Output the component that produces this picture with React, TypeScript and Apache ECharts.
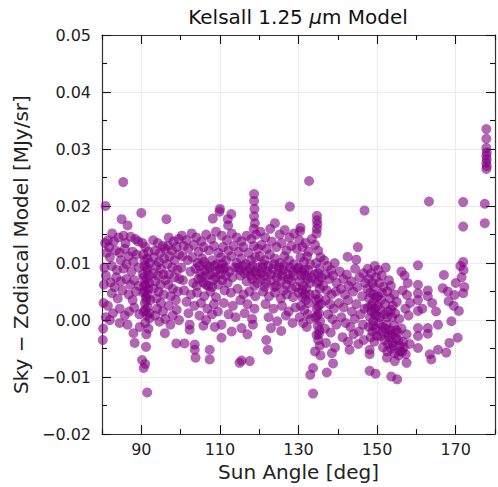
import React, { useEffect, useRef } from "react";
import * as echarts from "echarts";

// ---- Data (sun angle [deg], sky - zodiacal model [MJy/sr]) ----
const pts80to90: number[][] = [
  [80.9, 0.02], [85.4, 0.0242], [80.2, -0.0035], [80.3, -0.0015], [81.0, 0.0005],
  [82.6, 0.0152], [81.5, 0.014], [85.0, 0.0177], [86.5, 0.0166], [84.2, 0.0145], [85.5, 0.0148],
  [87.3, 0.0146], [88.5, 0.0142], [83.0, 0.0138], [80.8, 0.0135], [81.8, 0.0128], [86.0, 0.0135], [89.2, 0.0138],
  [81.2, 0.0118], [82.0, 0.011], [83.5, 0.0122], [84.5, 0.0118], [85.8, 0.0125], [86.8, 0.0112], [87.8, 0.012],
  [88.8, 0.0115], [84.8, 0.0105], [86.2, 0.0098], [88.0, 0.0102], [82.5, 0.0095], [80.6, 0.0092], [83.8, 0.0088],
  [85.5, 0.009], [87.5, 0.0085], [89.3, 0.0092],
  [81.0, 0.0078], [82.2, 0.0066], [83.6, 0.0075], [84.8, 0.0068], [86.2, 0.0072], [87.2, 0.0062], [88.2, 0.007],
  [89.4, 0.006], [82.5, 0.0047], [85.2, 0.0052], [86.8, 0.0045], [88.6, 0.005], [84.0, 0.0038], [87.8, 0.0035],
  [81.5, 0.0025], [82.8, 0.0012], [84.5, 0.002], [85.8, 0.0008], [86.9, 0.0015], [88.2, 0.0022], [89.5, 0.001],
  [82.0, 0.0], [84.5, -0.0005], [86.5, -0.0008], [88.0, -0.0023], [88.3, -0.004], [89.6, -0.0012], [80.5, 0.0062],
  [80.4, 0.003], [83.2, 0.0058],
];

const pts90to100: number[][] = [
  [90.0, 0.0188], [91.5, -0.0127], [90.2, -0.007], [90.6, -0.0084], [91.2, -0.0047], [91.0, -0.0077],
  [96.4, 0.0177], [96.0, -0.0023], [98.9, -0.0041],
  [90.3, 0.0135], [91.0, 0.0128], [91.8, 0.012], [90.5, 0.0115], [91.5, 0.0108], [92.2, 0.01], [90.8, 0.0095],
  [91.6, 0.0088], [90.4, 0.008], [91.3, 0.0072], [92.0, 0.0065], [90.7, 0.006], [91.8, 0.0055], [90.5, 0.0048],
  [91.2, 0.004], [92.3, 0.0035], [90.9, 0.003], [91.6, 0.0022], [90.6, 0.0015], [91.4, 0.0008], [92.1, 0.0003],
  [91.0, -0.0005], [91.8, -0.0015], [91.3, -0.0025],
  [93.0, 0.014], [94.2, 0.0135], [95.5, 0.013], [93.5, 0.0122], [94.8, 0.0118], [96.0, 0.0125], [93.2, 0.011],
  [94.5, 0.0102], [95.8, 0.0108], [93.8, 0.0095], [95.0, 0.009], [93.0, 0.0082], [94.2, 0.0078], [95.6, 0.008],
  [93.6, 0.0068], [94.9, 0.0062], [96.2, 0.007], [93.1, 0.0055], [94.4, 0.005], [95.7, 0.0045], [93.8, 0.0038],
  [95.0, 0.003], [94.0, 0.002], [95.5, 0.0015], [93.5, 0.0008], [96.1, 0.0002], [94.6, -0.0003],
  [97.0, 0.0145], [98.2, 0.0138], [99.5, 0.0142], [96.8, 0.013], [97.8, 0.0122], [99.0, 0.0128], [97.2, 0.0112],
  [98.5, 0.0105], [99.6, 0.0115], [96.6, 0.0098], [97.9, 0.0092], [99.2, 0.0088], [97.0, 0.008], [98.4, 0.0075],
  [99.7, 0.0072], [96.9, 0.0062], [98.0, 0.0055], [99.3, 0.005], [97.5, 0.0042], [98.8, 0.0035], [97.0, 0.0025],
  [99.0, 0.0018], [98.0, 0.0008], [99.6, 0.0], [97.4, -0.0008],
];

const pts100to110: number[][] = [
  [101.0, -0.0041], [103.6, -0.0043], [103.6, -0.0052], [103.8, -0.0066], [102.3, -0.0008], [102.3, -0.0017],
  [107.4, -0.0052], [107.4, -0.0069], [108.2, 0.0178], [110.0, 0.0195], [109.9, 0.019], [110.4, -0.0031],
  [100.3, 0.0148], [101.5, 0.014], [102.8, 0.0152], [104.0, 0.0145], [105.3, 0.0138], [106.5, 0.015],
  [107.8, 0.0142], [109.0, 0.0155], [100.8, 0.013], [102.0, 0.0125], [103.4, 0.0132], [104.6, 0.012],
  [105.9, 0.0128], [107.2, 0.0122], [108.5, 0.013], [109.6, 0.0118], [100.5, 0.0112], [101.8, 0.0105],
  [103.0, 0.011], [104.3, 0.01], [105.5, 0.0108], [106.8, 0.0095], [108.0, 0.0105], [109.3, 0.0098],
  [100.2, 0.0092], [102.5, 0.0085], [103.8, 0.009], [105.0, 0.0082], [106.2, 0.0088], [107.5, 0.008],
  [108.8, 0.0085], [110.0, 0.009], [100.6, 0.007], [103.2, 0.0065], [104.5, 0.0072], [105.8, 0.0066],
  [107.0, 0.006], [108.3, 0.007], [109.6, 0.0062], [100.9, 0.0052], [102.6, 0.0045], [104.2, 0.0048],
  [106.0, 0.0042], [107.6, 0.005], [109.0, 0.004], [101.5, 0.0032], [103.5, 0.0025], [105.2, 0.003],
  [106.8, 0.002], [108.5, 0.0028], [102.0, 0.0012], [104.8, 0.0008], [106.5, 0.0], [108.0, 0.001],
  [109.5, 0.0015], [105.8, -0.001], [108.7, -0.0012], [110.4, -0.0008],
];

const pts110to120: number[][] = [
  [112.9, 0.0186], [112.0, 0.0177], [112.1, 0.0166], [118.7, 0.0221], [118.7, 0.0209], [118.8, 0.0195],
  [118.7, 0.0182], [118.9, 0.017], [118.6, 0.016], [115.5, -0.0071], [117.6, -0.0072], [115.0, -0.0075],
  [110.5, 0.0148], [111.8, 0.014], [113.0, 0.0152], [114.3, 0.0145], [115.5, 0.0138], [116.8, 0.0148],
  [118.0, 0.0142], [119.2, 0.015], [110.8, 0.0128], [112.2, 0.0122], [113.5, 0.013], [114.8, 0.012],
  [116.0, 0.0128], [117.3, 0.0118], [118.6, 0.013], [119.7, 0.0125], [110.3, 0.011], [111.6, 0.0105],
  [112.9, 0.0112], [114.2, 0.01], [115.4, 0.0108], [116.6, 0.0098], [117.9, 0.0105], [119.0, 0.011],
  [110.9, 0.009], [112.4, 0.0085], [113.8, 0.0092], [115.0, 0.0088], [116.3, 0.0082], [117.6, 0.009],
  [118.9, 0.0085], [110.6, 0.007], [112.0, 0.0065], [113.2, 0.0075], [116.8, 0.0068], [118.2, 0.0072],
  [119.5, 0.0065], [111.2, 0.0052], [112.8, 0.0048], [114.5, 0.0055], [116.0, 0.0045], [117.5, 0.005],
  [119.0, 0.0042], [111.0, 0.003], [113.3, 0.0025], [115.2, 0.0035], [117.0, 0.0028], [118.8, 0.002],
  [112.2, 0.001], [114.0, 0.0005], [116.3, 0.0012], [118.2, 0.0002], [115.5, -0.0014], [118.4, -0.0008],
  [113.0, -0.002], [117.0, -0.0025],
];

const pts120to130: number[][] = [
  [127.8, 0.0199], [122.2, -0.0052], [123.0, -0.0014], [125.6, -0.0019], [121.8, -0.0035],
  [120.3, 0.0155], [121.5, 0.0145], [122.8, 0.016], [124.0, 0.017], [125.2, 0.015], [126.5, 0.0158],
  [127.7, 0.0145], [128.9, 0.0152], [120.6, 0.0132], [121.9, 0.0125], [123.2, 0.0138], [124.4, 0.0128],
  [125.7, 0.0135], [126.9, 0.0122], [128.2, 0.013], [129.5, 0.0125], [120.2, 0.0112], [121.4, 0.0105],
  [122.7, 0.0115], [124.0, 0.0108], [125.3, 0.01], [126.4, 0.0112], [127.6, 0.0105], [128.8, 0.0098],
  [120.8, 0.0092], [122.1, 0.0085], [123.5, 0.009], [124.8, 0.0082], [126.0, 0.0088], [127.2, 0.008],
  [128.5, 0.0085], [129.8, 0.009], [120.5, 0.0072], [121.8, 0.0065], [123.0, 0.007], [124.3, 0.006],
  [125.6, 0.0068], [126.9, 0.0062], [128.1, 0.007], [129.4, 0.0058], [121.0, 0.005], [122.5, 0.0042],
  [124.0, 0.0048], [125.5, 0.0038], [127.0, 0.0045], [128.6, 0.004], [121.6, 0.0028], [123.6, 0.002],
  [125.8, 0.0025], [127.5, 0.0015], [129.2, 0.0022], [122.4, 0.0005], [124.6, -0.0002], [126.8, 0.0008],
  [128.5, -0.0005],
];

const pts130to140: number[][] = [
  [132.7, 0.0244], [134.7, 0.0183], [134.7, 0.0175], [134.8, 0.0168], [134.7, 0.016], [134.6, 0.0152],
  [130.5, 0.0162], [130.4, 0.0156], [133.7, -0.0129], [133.7, -0.0084], [133.0, -0.0096], [137.2, -0.0092],
  [138.8, -0.0076],
  [130.2, 0.014], [131.0, 0.0128], [131.8, 0.0135], [132.6, 0.012], [133.4, 0.0142], [130.5, 0.011],
  [131.4, 0.0102], [132.2, 0.0112], [133.0, 0.0098], [130.0, 0.0092], [130.8, 0.0085], [131.7, 0.0078],
  [132.5, 0.0088], [133.3, 0.0075], [130.4, 0.0068], [131.2, 0.006], [132.0, 0.0055], [132.9, 0.0065],
  [130.1, 0.0048], [131.0, 0.004], [131.9, 0.0035], [132.8, 0.0045], [130.6, 0.0025], [131.5, 0.0018],
  [132.4, 0.001], [130.3, 0.0005], [131.2, -0.0005], [132.1, -0.0012], [133.1, 0.0002],
  [134.2, 0.0132], [135.0, 0.0122], [135.6, 0.011], [134.5, 0.01], [135.3, 0.009], [134.1, 0.008],
  [135.8, 0.0075], [134.7, 0.0065], [135.4, 0.0055], [134.3, 0.0045], [135.1, 0.0038], [135.7, 0.0028],
  [134.6, 0.002], [135.2, 0.0012], [134.4, 0.0005], [135.5, -0.0002], [134.9, -0.001], [135.3, -0.0018],
  [134.6, -0.0026], [135.0, -0.0035], [135.4, -0.0045], [134.2, -0.0055], [135.6, -0.0062],
  [136.5, 0.0105], [137.4, 0.0095], [138.3, 0.0088], [139.2, 0.01], [136.8, 0.008], [137.8, 0.0072],
  [138.8, 0.0078], [139.7, 0.0065], [136.3, 0.006], [137.2, 0.0052], [138.4, 0.0045], [139.5, 0.005],
  [136.9, 0.0035], [138.0, 0.0028], [139.0, 0.002], [137.5, 0.001], [138.6, 0.0002], [139.6, -0.0008],
  [136.7, -0.0015], [138.2, -0.0022], [137.0, -0.004], [139.3, -0.0048], [138.5, -0.0058],
];

const pts140to150: number[][] = [
  [146.8, 0.0192], [145.1, 0.0128], [142.5, 0.0111], [144.7, 0.0106], [143.0, -0.0052], [148.1, -0.0052],
  [148.1, -0.006], [148.1, -0.0089], [149.6, -0.0094],
  [140.5, 0.0085], [141.4, 0.0072], [142.3, 0.008], [143.5, 0.0068], [144.4, 0.009], [145.5, 0.0075],
  [146.5, 0.0082], [140.8, 0.0055], [141.8, 0.0045], [142.8, 0.006], [143.9, 0.005], [145.0, 0.0058],
  [146.2, 0.0042], [147.0, 0.0065], [140.3, 0.003], [141.5, 0.0022], [142.6, 0.0035], [143.6, 0.0015],
  [144.7, 0.0028], [145.8, 0.001], [146.8, 0.002], [140.9, 0.0005], [142.0, -0.0005], [143.2, -0.0012],
  [144.3, 0.0002], [145.4, -0.002], [146.4, -0.0008], [141.2, -0.003], [142.6, -0.0038], [144.0, -0.0025],
  [145.2, -0.0042], [146.6, -0.0035],
  [147.6, 0.009], [148.5, 0.0082], [149.4, 0.0095], [147.8, 0.0072], [148.8, 0.0065], [149.7, 0.0075],
  [147.5, 0.0055], [148.3, 0.0048], [149.2, 0.0058], [148.0, 0.0038], [148.9, 0.003], [149.8, 0.004],
  [147.7, 0.0022], [148.6, 0.0015], [149.5, 0.002], [148.2, 0.0005], [149.0, -0.0002], [149.8, 0.0008],
  [147.9, -0.0012], [148.8, -0.002], [149.6, -0.0015], [148.4, -0.003], [149.3, -0.0038], [149.9, -0.0028],
];

const pts150to160: number[][] = [
  [153.6, -0.0099], [155.1, -0.0104], [152.5, -0.0066], [154.5, -0.0072], [157.5, -0.0075],
  [150.3, 0.0088], [151.2, 0.0078], [152.2, 0.0092], [153.0, 0.007], [150.6, 0.0065], [151.6, 0.0058],
  [152.6, 0.005], [153.5, 0.006], [154.4, 0.0045], [150.2, 0.0042], [151.0, 0.0035], [152.0, 0.0028],
  [153.2, 0.0038], [154.0, 0.0025], [155.0, 0.0032], [150.8, 0.0018], [151.8, 0.001], [152.8, 0.0015],
  [153.8, 0.0005], [154.6, 0.0012], [155.6, 0.0002], [150.4, -0.0005], [151.4, -0.0012], [152.4, -0.0008],
  [153.4, -0.0018], [154.3, -0.001], [155.2, -0.0022], [156.2, -0.0015], [150.9, -0.0028], [151.9, -0.0035],
  [152.9, -0.0025], [153.9, -0.004], [154.8, -0.0032], [155.8, -0.0045], [156.6, -0.0038], [151.5, -0.0048],
  [152.6, -0.0055], [153.6, -0.005], [154.5, -0.0058], [155.5, -0.0062], [156.4, -0.0055], [157.3, -0.006],
  [156.2, 0.0085], [157.0, 0.0078], [157.8, 0.0065], [156.5, 0.0052], [157.6, 0.0044], [158.4, 0.003],
  [157.2, 0.002], [158.0, 0.0008], [157.5, -0.0025], [158.3, -0.0042],
];

const pts160to180: number[][] = [
  [160.4, 0.0096], [160.4, 0.0062], [160.4, 0.0047], [160.4, 0.0035], [160.4, 0.0016], [160.4, -0.0014],
  [160.4, -0.0028], [160.4, -0.0049],
  [163.2, 0.0208], [171.9, 0.0207], [171.9, 0.0164], [177.4, 0.0204], [177.4, 0.017], [171.9, 0.0102],
  [167.0, 0.0079], [171.2, 0.0095], [172.0, 0.0088], [171.5, 0.0075], [166.7, 0.0056], [168.0, 0.005],
  [169.7, 0.0044], [171.9, 0.0047], [168.2, 0.0033], [169.5, 0.0025], [170.8, 0.0016], [168.9, -0.0002],
  [170.5, -0.0031], [168.4, -0.004], [167.6, -0.0057], [165.5, -0.0052], [163.4, -0.006], [163.8, -0.0069],
  [165.5, -0.0008], [162.9, -0.0014], [162.9, -0.0024], [161.5, 0.002], [162.9, 0.0052], [162.9, 0.0042],
  [164.0, 0.003], [165.0, 0.0015], [170.0, 0.0065], [172.2, 0.0058],
  [177.8, 0.0335], [177.8, 0.0318], [177.8, 0.0302], [177.9, 0.0294], [177.8, 0.0288], [177.9, 0.0282],
  [177.8, 0.0276], [177.9, 0.027], [177.8, 0.0265],
];

// extra points in the densest (darkest) parts of the cloud
const ptsDenseCore: number[][] = [
  [90.8, 0.0105], [91.4, 0.0092], [90.6, 0.0075], [91.9, 0.0078], [91.1, 0.0062], [90.9, 0.005],
  [91.6, 0.0045], [91.0, 0.0018], [92.0, 0.0012], [91.3, 0.0035],
  [104.8, 0.0095], [106.0, 0.0102], [107.3, 0.0092], [108.6, 0.0095], [110.6, 0.0098], [111.4, 0.0092],
  [105.3, 0.0075], [106.6, 0.0078], [108.9, 0.0075], [110.1, 0.008], [111.5, 0.0078], [104.1, 0.006],
  [106.4, 0.0062], [108.0, 0.0058],
  [114.6, 0.0092], [115.8, 0.0095], [117.0, 0.0085], [118.3, 0.0095], [119.6, 0.0092], [120.9, 0.0098],
  [122.3, 0.0095], [123.8, 0.0098], [125.0, 0.0092], [126.3, 0.0095], [127.8, 0.0092], [115.2, 0.0078],
  [117.9, 0.0078], [119.3, 0.008], [120.4, 0.0082], [121.2, 0.0078], [122.9, 0.008], [124.5, 0.0075],
  [125.9, 0.0078], [127.4, 0.0072], [128.8, 0.0078], [118.8, 0.006], [121.4, 0.0058], [123.9, 0.0058],
  [126.2, 0.0052], [128.3, 0.0055],
  [130.7, 0.0078], [131.5, 0.0088], [132.3, 0.0072], [130.9, 0.0052], [131.7, 0.0045], [132.6, 0.003],
  [134.9, 0.0082], [135.2, 0.0068], [134.5, 0.0035], [135.0, 0.0025], [134.8, 0.0008], [135.2, -0.0025],
  [148.6, 0.0025], [149.4, 0.001], [150.1, 0.0025], [150.7, 0.0005], [151.3, -0.002], [152.1, -0.0015],
  [152.8, -0.0042], [153.1, -0.003], [153.8, -0.0025], [154.2, -0.0045], [154.9, -0.0018], [155.4, -0.0035],
  [155.9, -0.0055], [156.8, -0.0048], [149.0, -0.001], [152.5, 0.0005], [153.5, 0.0018], [151.2, 0.0048],
  [149.1, 0.0045],
];

const xTickLabels = [90, 110, 130, 150, 170];
const titleText = "Kelsall 1.25 {i|\u03bc}m Model";
const xName = "Sun Angle [deg]";
const yName = "Sky \u2212 Zodiacal Model [MJy/sr]";

const FONT = "DejaVu Sans";

function fmtY(v: number) {
  const s = Math.abs(v).toFixed(2);
  return v < -1e-9 ? "\u2212" + s : s;
}

export default function App() {
  const ref = useRef<HTMLDivElement>(null);
  useEffect(() => {
    if (!ref.current) return;
    const chart = echarts.init(ref.current, null, { renderer: "svg" });
    const all = [
      ...pts80to90, ...pts90to100, ...pts100to110, ...pts110to120, ...pts120to130,
      ...pts130to140, ...pts140to150, ...pts150to160, ...pts160to180, ...ptsDenseCore,
    ];
    const axisLine = { show: true, onZero: false, lineStyle: { color: "#333", width: 1.2 } };
    const xBase = {
      type: "value",
      min: 80,
      max: 180,
      interval: 20,
      axisLine,
      axisTick: { show: true, inside: true, length: 5, lineStyle: { color: "#111", width: 1.1 } },
      minorTick: { show: true, splitNumber: 2, length: 9, lineStyle: { color: "#111", width: 1.1 } },
      splitLine: { show: false },
      minorSplitLine: { show: true, lineStyle: { color: "#ebebeb", width: 1 } },
    };
    const yBase = {
      type: "value",
      min: -0.02,
      max: 0.05,
      interval: 0.01,
      axisLine,
      axisTick: { show: true, inside: true, length: 9, lineStyle: { color: "#111", width: 1.1 } },
      minorTick: { show: true, splitNumber: 2, length: 5, lineStyle: { color: "#111", width: 1.1 } },
      splitLine: { show: true, lineStyle: { color: "#ebebeb", width: 1 } },
    };
    chart.setOption({
      animation: false,
      backgroundColor: "#fff",
      title: {
        text: titleText,
        left: 298,
        top: 7,
        padding: 0,
        textAlign: "center",
        textStyle: {
          fontFamily: FONT,
          fontSize: 20,
          fontWeight: "normal",
          color: "#111",
          rich: { i: { fontFamily: FONT, fontSize: 20, fontStyle: "italic", color: "#111" } },
        },
      },
      grid: { left: 102, right: 3, top: 35, bottom: 50, containLabel: false },
      xAxis: [
        {
          ...xBase,
          position: "bottom",
          name: xName,
          nameLocation: "middle",
          nameGap: 25,
          nameTextStyle: { fontFamily: FONT, fontSize: 20, color: "#222" },
          axisLabel: {
            show: true,
            customValues: xTickLabels,
            margin: 7,
            fontFamily: FONT,
            fontSize: 16,
            color: "#222",
          },
        },
        { ...xBase, position: "top", axisLabel: { show: false }, minorSplitLine: { show: false } },
      ],
      yAxis: [
        {
          ...yBase,
          position: "left",
          name: yName,
          nameLocation: "middle",
          nameGap: 70,
          nameTextStyle: { fontFamily: FONT, fontSize: 20, color: "#222", padding: [0, 20, 0, 0] },
          axisLabel: { show: true, margin: 11, fontFamily: FONT, fontSize: 16, color: "#222", formatter: fmtY },
        },
        { ...yBase, position: "right", axisLabel: { show: false }, splitLine: { show: false } },
      ],
      series: [
        {
          type: "scatter",
          xAxisIndex: 0,
          yAxisIndex: 0,
          data: all,
          symbol: "circle",
          symbolSize: 10,
          itemStyle: { color: "#800080", opacity: 0.6 },
        },
      ],
    });
    return () => chart.dispose();
  }, []);
  return (
    <div
      ref={ref}
      style={{ position: "fixed", left: 0, top: 0, width: 498, height: 487, background: "#fff" }}
    />
  );
}
